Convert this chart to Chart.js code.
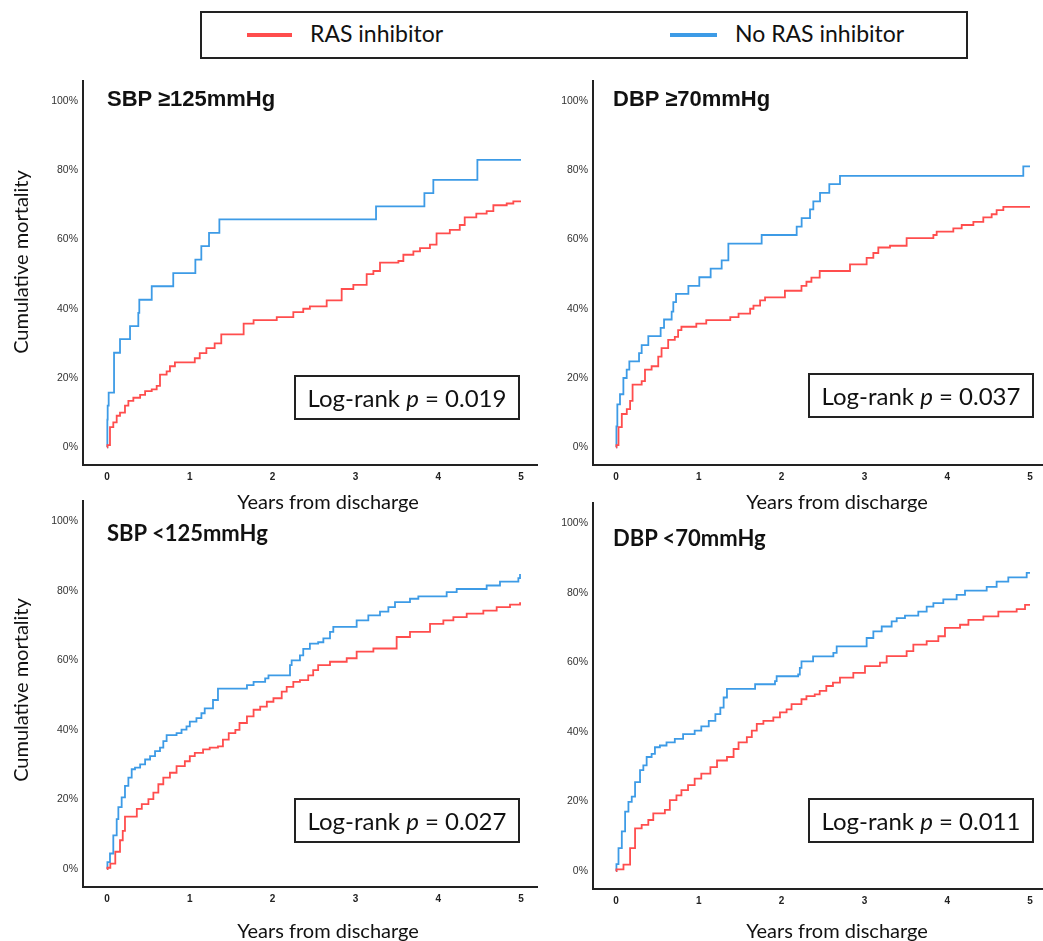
<!DOCTYPE html>
<html>
<head>
<meta charset="utf-8">
<script src="https://cdn.jsdelivr.net/npm/chart.js@4.4.0/dist/chart.umd.min.js"></script>
<style>
  body { margin: 0; background: #fff; }
  #page { position: relative; width: 1043px; height: 941px; overflow: hidden; font-family: Lato, "Open Sans", sans-serif; color: #111; }
  canvas { position: absolute; }
  .abs { position: absolute; white-space: nowrap; }
  .legend { left: 200px; top: 11px; width: 764px; height: 44px; border: 2px solid #222; }
  .swatch { position: absolute; height: 4px; top: 20px; }
  .legtext { position: absolute; top: 5px; font-size: 23px; line-height: 30px; }
  .ytitle { font-size: 20px; line-height: 24px; width: 220px; text-align: center; transform: rotate(-90deg); }
  .xtitle { font-size: 20px; line-height: 24px; width: 240px; text-align: center; }
  .ptitle { font-weight: bold; font-size: 22px; line-height: 26px; }
  .ptitle.top { font-family: "Liberation Sans", Arial, sans-serif; }
  .pbox { border: 2px solid #222; width: 222px; height: 41px; font-size: 24px; line-height: 41px; text-align: center; }
</style>
</head>
<body>
<div id="page">
  <div class="abs legend">
    <div class="swatch" style="left:45px;width:45px;background:#ff4d4d"></div>
    <div class="legtext" style="left:108px">RAS inhibitor</div>
    <div class="swatch" style="left:468px;width:47px;background:#3d9be6"></div>
    <div class="legtext" style="left:533px">No RAS inhibitor</div>
  </div>

  <canvas id="c1" width="540" height="420" style="left:0;top:70px"></canvas>
  <canvas id="c2" width="503" height="420" style="left:540px;top:70px"></canvas>
  <canvas id="c3" width="540" height="430" style="left:0;top:490px"></canvas>
  <canvas id="c4" width="503" height="430" style="left:540px;top:492px"></canvas>

  <div class="abs ytitle" style="left:-90px;top:250px">Cumulative mortality</div>
  <div class="abs ytitle" style="left:-90px;top:678px">Cumulative mortality</div>

  <div class="abs xtitle" style="left:208px;top:489px">Years from discharge</div>
  <div class="abs xtitle" style="left:717px;top:489px">Years from discharge</div>
  <div class="abs xtitle" style="left:208px;top:918px">Years from discharge</div>
  <div class="abs xtitle" style="left:717px;top:918px">Years from discharge</div>

  <div class="abs ptitle top" style="left:107px;top:86px">SBP ≥125mmHg</div>
  <div class="abs ptitle top" style="left:613px;top:86px">DBP ≥70mmHg</div>
  <div class="abs ptitle" style="left:107px;top:520px">SBP &lt;125mmHg</div>
  <div class="abs ptitle" style="left:613px;top:525px">DBP &lt;70mmHg</div>

  <div class="abs pbox" style="left:294px;top:375px">Log-rank <i>p</i> = 0.019</div>
  <div class="abs pbox" style="left:808px;top:373px">Log-rank <i>p</i> = 0.037</div>
  <div class="abs pbox" style="left:294px;top:798px">Log-rank <i>p</i> = 0.027</div>
  <div class="abs pbox" style="left:808px;top:798px">Log-rank <i>p</i> = 0.011</div>
</div>

<script>
  // tick labels
  const xTicks = [0, 1, 2, 3, 4, 5];
  const yTicks = [0, 20, 40, 60, 80, 100];

  // [years from discharge, cumulative mortality %]
  const sbpHighRas = [[0,0],[0.005,0.6],[0.036,5.8],[0.076,7.2],[0.117,9.1],[0.157,10],[0.217,12],[0.258,13.4],
    [0.318,14.3],[0.4,15.1],[0.46,16.2],[0.54,16.7],[0.6,17.7],[0.64,21],[0.72,21.9],[0.76,23.4],[0.82,24.5],
    [1.06,25.7],[1.12,27.2],[1.2,28.6],[1.3,30],[1.38,32.6],[1.65,35.7],[1.77,36.7],[2.05,37.6],[2.25,39],
    [2.37,40],[2.45,40.7],[2.653,42.4],[2.834,45.7],[2.975,46.9],[3.136,50],[3.217,50.9],[3.297,53.3],[3.519,53.8],
    [3.579,55.6],[3.7,56.6],[3.78,57.5],[3.9,58.5],[3.98,61.8],[4.14,62.8],[4.26,64.2],[4.32,66.4],[4.46,67.5],
    [4.585,68.2],[4.666,69.9],[4.827,70.4],[4.907,71],[5.0,71]];
  const sbpHighNoRas = [[0,0],[0.004,8],[0.008,12],[0.02,15.8],[0.085,27.3],[0.157,31.2],[0.278,35],[0.378,38.8],
    [0.39,42.6],[0.54,46.5],[0.80,50.3],[1.067,54.2],[1.139,58.1],[1.232,61.9],[1.357,65.8],[3.249,69.6],
    [3.833,73.4],[3.941,77.2],[4.473,83],[5.0,83]];

  const dbpHighRas = [[0,0],[0.005,0.6],[0.03,5.8],[0.07,9.6],[0.13,11],[0.17,13.4],[0.2,18.1],[0.31,19.1],
    [0.35,22.4],[0.43,23.4],[0.51,26.2],[0.55,28.6],[0.63,31],[0.71,31.9],[0.75,33.8],[0.79,34.8],[0.97,35.7],
    [1.09,36.7],[1.38,37.6],[1.48,38.6],[1.62,40],[1.66,40.9],[1.74,42.4],[1.8,43.3],[2.04,45.2],[2.24,46.6],
    [2.3,47.8],[2.36,49],[2.46,50.9],[2.826,52.8],[3.027,54.7],[3.108,56.1],[3.168,57.7],[3.309,58.2],[3.51,60.4],
    [3.833,61.3],[3.873,62.3],[4.074,63.2],[4.175,64.2],[4.316,65.1],[4.436,66.4],[4.537,67.3],[4.597,68.5],
    [4.678,69.4],[5.0,69.4]];
  const dbpHighNoRas = [[0,0],[0.005,6],[0.016,12.4],[0.048,15.3],[0.089,20],[0.129,22.4],[0.161,24.8],[0.278,27.2],
    [0.31,29.5],[0.39,32.1],[0.539,34.5],[0.58,36.9],[0.672,39.2],[0.692,41.9],[0.725,44.3],[0.874,46.6],
    [1.006,49.1],[1.143,51.6],[1.276,54],[1.357,58.8],[1.759,61.3],[2.182,63.7],[2.242,66.2],[2.343,68.7],
    [2.383,71],[2.464,73.5],[2.576,76],[2.705,78.4],[4.919,81.1],[5.0,81.1]];

  const sbpLowRas = [[0,0],[0.005,0.4],[0.04,1.6],[0.1,5],[0.157,8.3],[0.19,11],[0.217,15.1],[0.36,17.3],
    [0.42,18.7],[0.5,20.1],[0.56,22],[0.62,24.4],[0.68,26.3],[0.76,27.7],[0.84,29.6],[0.94,31],[1.0,32.5],
    [1.06,33.4],[1.16,34.4],[1.24,34.9],[1.34,35.3],[1.4,37.2],[1.47,39.1],[1.55,40],[1.6,42],[1.69,43.9],
    [1.77,45.8],[1.85,46.7],[1.93,48.1],[2.01,49.1],[2.11,51],[2.17,52.4],[2.25,53.8],[2.33,54.3],[2.43,55.7],
    [2.49,57.2],[2.55,58.6],[2.693,59.6],[2.895,60.6],[3.015,62.5],[3.217,63.4],[3.498,66.7],[3.659,68.2],
    [3.901,70.5],[4.062,71.5],[4.183,72.4],[4.344,73.4],[4.545,74.3],[4.706,75.3],[4.867,76],[4.988,76.4],[5.0,76.4]];
  const sbpLowNoRas = [[0,0],[0.005,2],[0.036,4.5],[0.076,9.7],[0.117,14.4],[0.137,17.8],[0.177,20.6],[0.217,23.9],
    [0.258,26.3],[0.298,28.7],[0.338,29.2],[0.4,30.1],[0.46,31.5],[0.52,32.5],[0.58,33.9],[0.64,34.9],[0.68,36.8],
    [0.72,38.5],[0.84,39.1],[0.9,40.1],[0.96,41],[1.0,42.4],[1.08,43.4],[1.14,44.8],[1.18,46.2],[1.28,48.6],
    [1.34,51.9],[1.69,52.9],[1.77,53.8],[1.91,54.8],[1.95,55.7],[2.21,58.6],[2.23,60],[2.33,61.4],[2.37,63.3],
    [2.45,64.8],[2.55,65.2],[2.613,66.3],[2.693,68.2],[2.733,69.6],[3.015,71.5],[3.156,72.9],[3.297,74],
    [3.398,75.3],[3.478,76.7],[3.659,77.7],[3.76,78.4],[4.102,79.6],[4.223,80.5],[4.585,81.5],[4.746,82.6],
    [4.968,83.6],[4.988,84.8]];

  const dbpLowRas = [[0,0],[0.005,0.5],[0.09,1.9],[0.17,6.6],[0.23,12.3],[0.31,13.3],[0.39,14.7],[0.45,16.6],
    [0.59,17.6],[0.65,20.4],[0.73,21.8],[0.79,23.3],[0.87,24.7],[0.95,26.6],[1.03,28],[1.14,29.9],[1.22,31.8],
    [1.34,32.8],[1.42,35.1],[1.48,37],[1.58,38.5],[1.64,40.4],[1.7,42.3],[1.78,43.2],[1.9,44.2],[1.98,45.6],
    [2.06,46.5],[2.12,48],[2.24,49.4],[2.3,50.3],[2.4,50.8],[2.46,51.8],[2.54,53.2],[2.62,54.2],[2.705,55.6],
    [2.866,57],[3.007,58.9],[3.188,59.9],[3.269,61.8],[3.51,63.2],[3.591,65.1],[3.752,66.1],[3.893,67.5],
    [3.973,69.9],[4.155,70.8],[4.256,72.2],[4.437,73.2],[4.618,74.6],[4.839,75.3],[4.94,76.5],[5.0,76.5]];
  const dbpLowNoRas = [[0,0],[0.005,2],[0.03,6.6],[0.07,11.4],[0.11,17.1],[0.15,19.9],[0.19,21.4],[0.23,25.6],
    [0.29,29],[0.33,30.4],[0.37,32.8],[0.43,33.7],[0.47,35.6],[0.53,36.1],[0.61,37],[0.71,38],[0.81,39.4],
    [0.95,40.4],[1.03,41.6],[1.12,43.2],[1.2,45.1],[1.26,47],[1.3,49.9],[1.34,52.4],[1.68,53.7],[1.92,54.6],
    [1.94,56],[2.2,56.5],[2.22,58.4],[2.24,60.3],[2.38,61.7],[2.625,62.7],[2.665,64.6],[3.027,67],[3.108,68.9],
    [3.209,70.3],[3.329,71.8],[3.39,72.7],[3.49,73.4],[3.651,74.6],[3.752,76],[3.833,77],[3.953,78.1],
    [4.114,79.4],[4.215,80.6],[4.477,81.7],[4.597,83.2],[4.738,84.4],[4.96,85.7],[5.0,85.7]];

  const RED = '#ff4d4d';
  const BLUE = '#3d9be6';
  const AXIS = '#222';

  function toPoints(pairs) {
    return pairs.map(p => ({ x: p[0], y: p[1] }));
  }

  function panel(id, ras, noRas, opts) {
    return new Chart(document.getElementById(id), {
      type: 'line',
      data: {
        datasets: [
          { label: 'RAS inhibitor', data: toPoints(ras), borderColor: RED },
          { label: 'No RAS inhibitor', data: toPoints(noRas), borderColor: BLUE }
        ]
      },
      options: {
        responsive: false,
        animation: false,
        layout: { padding: { top: opts.padTop, right: opts.padRight, left: 0, bottom: 0 } },
        elements: {
          line: { stepped: true, borderWidth: 1.8, tension: 0 },
          point: { radius: 0 }
        },
        plugins: { legend: { display: false }, tooltip: { enabled: false } },
        scales: {
          x: {
            type: 'linear',
            min: opts.xMin, max: opts.xMax,
            afterBuildTicks: s => { s.ticks = xTicks.map(v => ({ value: v })); },
            afterFit: s => { s.height = opts.xAxisH; },
            grid: { display: false, drawTicks: false },
            border: { display: true, color: AXIS, width: 2 },
            ticks: {
              autoSkip: false, padding: 6, color: '#222', maxRotation: 0,
              font: { family: 'Liberation Sans', size: 10, weight: 'bold' },
              callback: v => String(v)
            }
          },
          y: {
            min: -5.13, max: 105.7,
            afterBuildTicks: s => { s.ticks = yTicks.map(v => ({ value: v })); },
            afterFit: s => { s.width = opts.yAxisW; },
            grid: { display: false, drawTicks: false },
            border: { display: true, color: AXIS, width: 2 },
            ticks: {
              autoSkip: false, padding: 5, color: '#333',
              font: { family: 'Liberation Sans', size: 10.5 },
              callback: v => v + '%'
            }
          }
        }
      }
    });
  }

  panel('c1', sbpHighRas, sbpHighNoRas, { padTop: 6, padRight: 3, xAxisH: 25, yAxisW: 83, xMin: -0.29, xMax: 5.193 });
  panel('c2', dbpHighRas, dbpHighNoRas, { padTop: 6, padRight: 0, xAxisH: 25, yAxisW: 53, xMin: -0.278, xMax: 5.157 });
  panel('c3', sbpLowRas, sbpLowNoRas, { padTop: 8, padRight: 3, xAxisH: 33, yAxisW: 83, xMin: -0.29, xMax: 5.193 });
  panel('c4', dbpLowRas, dbpLowNoRas, { padTop: 8, padRight: 0, xAxisH: 33, yAxisW: 53, xMin: -0.278, xMax: 5.157 });
</script>
</body>
</html>
